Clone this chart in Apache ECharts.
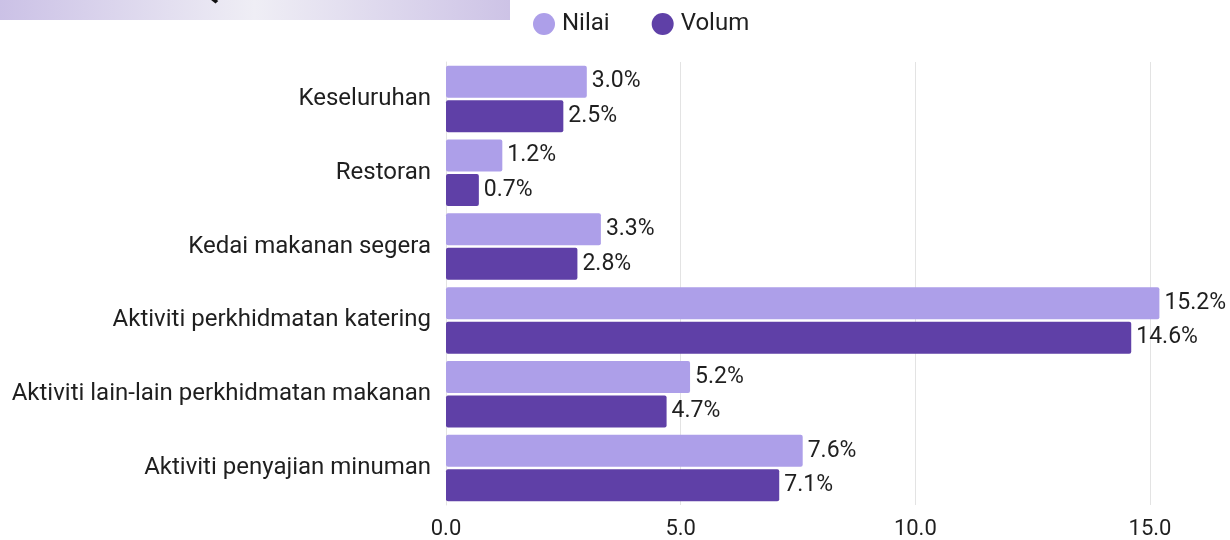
<!DOCTYPE html>
<html>
<head>
<meta charset="utf-8">
<script src="https://cdn.jsdelivr.net/npm/echarts@6/dist/echarts.min.js"></script>
<style>
  html, body { margin: 0; padding: 0; background: #ffffff; }
  #chart { width: 1230px; height: 540px; }
</style>
</head>
<body>
<div id="chart"></div>
<script>
// Food & beverage services: year-on-year growth by sub-activity
const titleText = 'Q4 2023';
const categories = [
  'Keseluruhan',
  'Restoran',
  'Kedai makanan segera',
  'Aktiviti perkhidmatan katering',
  'Aktiviti lain-lain perkhidmatan makanan',
  'Aktiviti penyajian minuman'
];
const seriesNames = ['Nilai', 'Volum'];
const nilaiValues = [3.0, 1.2, 3.3, 15.2, 5.2, 7.6];
const volumValues = [2.5, 0.7, 2.8, 14.6, 4.7, 7.1];

const chart = echarts.init(document.getElementById('chart'), null, { renderer: 'canvas' });

const labelStyle = {
  show: true,
  position: 'right',
  distance: 5,
  color: '#1f1f1f',
  fontSize: 23,
  fontFamily: 'Roboto',
  formatter: p => p.value.toFixed(1) + '%'
};

chart.setOption({
  backgroundColor: '#ffffff',
  animation: false,
  graphic: [
    {
      type: 'rect',
      left: 0, top: 0,
      shape: { width: 510, height: 20 },
      style: {
        fill: new echarts.graphic.LinearGradient(0, 0, 1, 0, [
          { offset: 0, color: '#cbc1e6' },
          { offset: 0.5, color: '#efeef5' },
          { offset: 1, color: '#cdc3e6' }
        ])
      },
      z: 0
    },
    {
      type: 'text',
      x: 256, y: 7,
      style: {
        text: titleText,
        fill: '#111111',
        font: 'bold 30px Roboto',
        textAlign: 'center',
        textVerticalAlign: 'bottom'
      },
      z: 1
    }
  ],
  legend: {
    top: 7,
    left: 528,
    itemGap: 42,
    itemWidth: 22,
    itemHeight: 22,
    icon: 'circle',
    textStyle: { fontSize: 24, color: '#1f1f1f', fontFamily: 'Roboto', padding: [0, 0, 0, 2] },
    data: seriesNames
  },
  grid: { left: 446, right: 80, top: 62, bottom: 33, containLabel: false },
  xAxis: {
    type: 'value',
    min: 0,
    max: 15,
    interval: 5,
    axisLine: { show: false },
    axisTick: { show: false },
    splitLine: { show: true, lineStyle: { color: '#e3e3e3', width: 1 } },
    axisLabel: {
      color: '#1f1f1f',
      fontSize: 22,
      fontFamily: 'Roboto',
      margin: 13,
      formatter: v => v.toFixed(1)
    }
  },
  yAxis: {
    type: 'category',
    inverse: true,
    data: categories,
    axisLine: { show: true, lineStyle: { color: '#e3e3e3' } },
    axisTick: { show: false },
    axisLabel: { color: '#1f1f1f', fontSize: 24, fontFamily: 'Roboto', margin: 15 }
  },
  series: [
    {
      name: seriesNames[0],
      type: 'bar',
      data: nilaiValues,
      barWidth: 32,
      barGap: '8%',
      clip: false,
      itemStyle: { color: '#ad9fe9', borderRadius: 2 },
      label: labelStyle
    },
    {
      name: seriesNames[1],
      type: 'bar',
      data: volumValues,
      barWidth: 32,
      clip: false,
      itemStyle: { color: '#5f40a7', borderRadius: 2 },
      label: labelStyle
    }
  ]
});
</script>
</body>
</html>
